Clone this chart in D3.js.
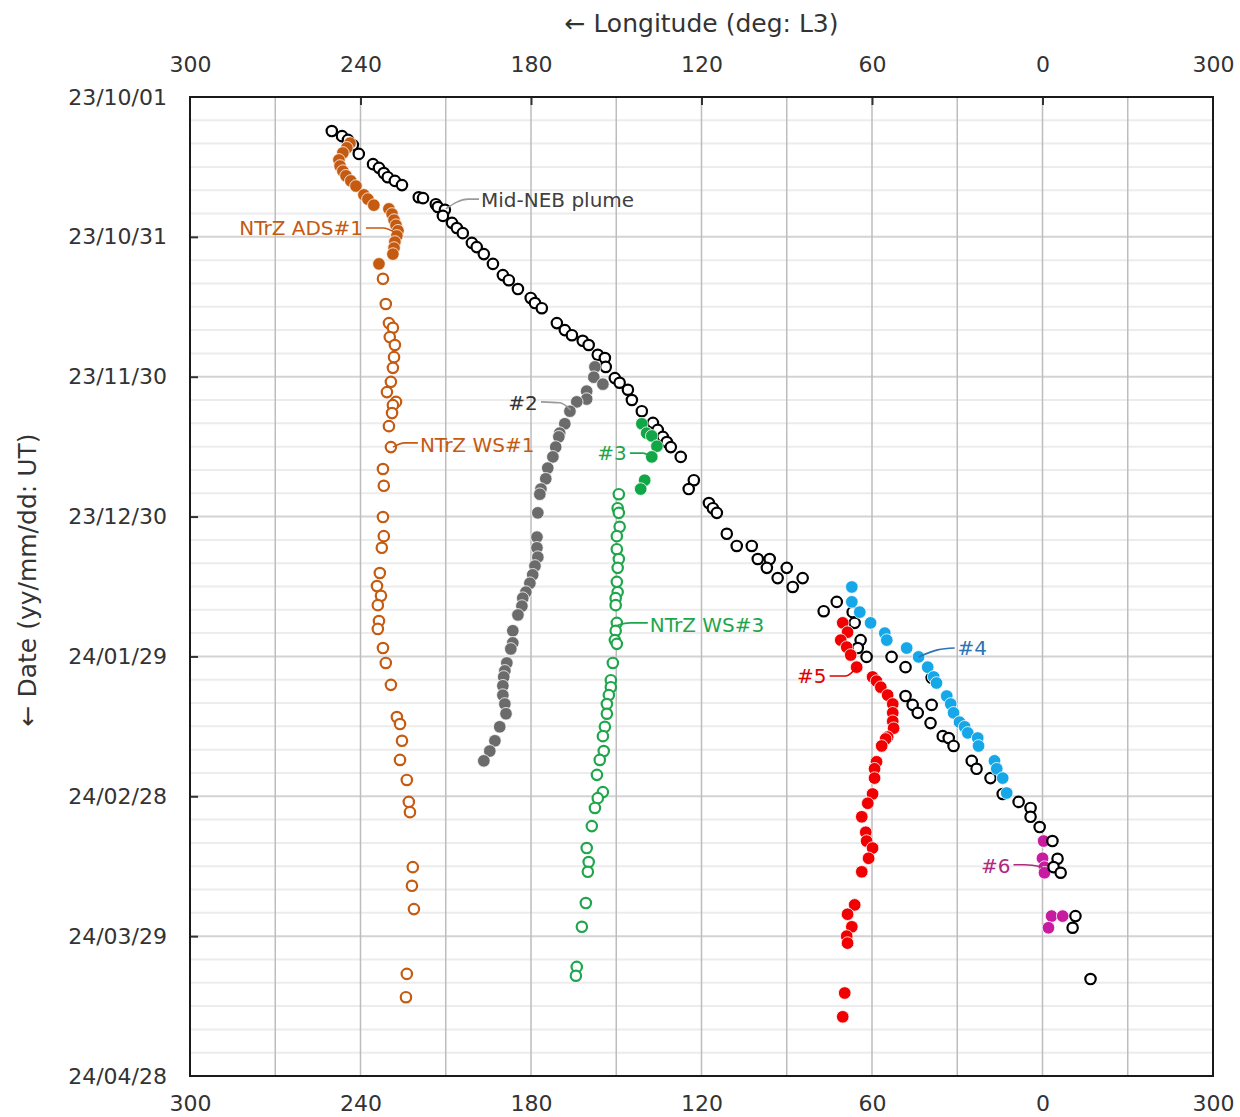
<!DOCTYPE html>
<html>
<head>
<meta charset="utf-8">
<script src="https://cdn.jsdelivr.net/npm/d3@7"></script>
<style>
body{margin:0;background:#fff;}
svg{display:block;font-family:"DejaVu Sans",Verdana,sans-serif;}
</style>
</head>
<body>
<svg id="chart" width="1240" height="1117"></svg>
<script>
// 데이터: [경도 (deg L3), 23/10/01 부터의 일수]
const midNeb = [[250.1,7.3],[246.5,8.4],[244.4,9.2],[242.7,10.3],[240.6,12.2],[235.6,14.4],[233.5,15.2],[231.8,16.3],[230.4,17.2],[227.9,18.0],[225.4,18.9],[219.5,21.5],[218.0,21.7],[213.5,23.0],[212.8,23.6],[210.3,24.2],[211.0,25.5],[207.8,27.0],[206.1,28.1],[204.0,29.2],[200.8,31.3],[199.1,32.2],[196.6,33.7],[193.4,35.8],[189.9,38.2],[187.8,39.3],[184.6,41.2],[180.1,43.1],[178.6,44.2],[176.2,45.3],[170.9,48.5],[168.1,50.0],[165.6,51.1],[161.8,52.3],[159.7,53.2],[156.5,55.3],[154.0,56.0],[153.7,57.9],[150.5,60.3],[148.8,61.3],[145.9,62.8],[144.5,65.0],[141.0,67.4],[137.1,69.9],[135.4,71.4],[133.6,72.9],[132.2,74.0],[130.8,75.1],[127.3,77.2],[122.7,82.2],[124.5,84.1],[117.4,87.1],[116.0,88.2],[114.6,89.2],[111.1,93.7],[107.6,96.3],[102.3,96.3],[100.2,99.1],[96.0,99.1],[97.0,101.0],[90.0,101.0],[93.2,103.2],[84.4,103.2],[87.9,105.1],[77.0,110.3],[72.4,108.3],[66.8,110.5],[66.1,112.8],[64.0,116.5],[65.0,118.2],[61.9,120.1],[53.1,120.1],[48.2,122.3],[39.0,124.6],[48.2,128.5],[45.7,130.4],[43.9,132.1],[39.0,130.4],[39.4,134.3],[35.1,137.1],[33.0,137.5],[31.3,139.2],[24.9,142.4],[23.2,144.1],[18.3,146.1],[14.0,149.5],[8.4,151.2],[4.2,152.5],[4.2,154.4],[1.0,156.6],[-3.5,159.6],[-5.3,163.4],[-3.9,165.2],[-6.4,166.4],[-11.6,175.7],[-10.6,178.2],[-16.9,189.2]]

const ntrzAds1 = [[243.7,9.9],[244.8,10.9],[246.2,12.0],[247.6,13.5],[247.2,14.8],[246.2,15.9],[245.1,16.9],[243.4,18.0],[241.6,19.1],[238.8,21.0],[237.4,21.9],[235.3,23.2],[230.0,24.0],[228.9,25.1],[228.2,26.4],[227.5,27.5],[226.8,28.7],[227.2,29.8],[227.9,31.1],[228.2,32.4],[228.6,33.7],[233.5,35.8]]

const ntrzWs1 = [[232.1,39.0],[231.1,44.4],[230.0,48.5],[228.6,49.5],[229.7,51.5],[227.9,53.2],[228.2,55.8],[228.6,58.1],[229.3,61.1],[230.7,63.3],[227.5,65.4],[228.6,66.1],[228.9,67.8],[230.0,70.6],[229.3,75.1],[232.1,79.8],[231.8,83.4],[232.1,90.1],[231.8,94.2],[232.5,96.7],[233.2,102.1],[234.2,104.9],[232.8,107.0],[233.9,109.0],[233.5,112.4],[233.9,114.1],[232.1,118.2],[231.1,121.4],[229.3,126.1],[227.2,133.0],[226.1,134.5],[225.4,138.1],[226.1,142.2],[223.7,146.5],[223.0,151.2],[222.6,153.4],[221.6,165.2],[221.9,169.2],[221.2,174.2],[223.7,188.1],[224.0,193.1]]

const spot2 = [[157.5,57.9],[157.9,60.1],[154.7,61.6],[160.4,63.1],[160.4,64.8],[163.9,65.4],[166.3,67.4],[168.1,70.1],[169.9,72.1],[170.2,72.9],[171.3,75.1],[172.3,77.2],[174.1,79.6],[174.8,81.9],[176.5,84.1],[176.9,85.2],[177.6,89.2],[177.9,94.4],[177.9,96.7],[177.6,98.7],[178.6,100.6],[179.4,102.5],[180.4,104.3],[181.8,106.2],[182.9,107.5],[183.2,109.2],[184.6,111.1],[186.4,114.5],[186.4,117.1],[187.1,118.4],[188.5,121.4],[189.2,123.1],[189.6,124.4],[189.9,126.3],[189.9,128.3],[189.2,130.2],[188.8,132.3],[191.0,135.1],[192.7,138.1],[194.5,140.3],[196.6,142.4]]

const spot3 = [[141.0,70.1],[139.3,72.1],[137.5,72.7],[135.7,74.9],[137.5,77.2],[140.0,82.2],[141.4,84.1]]

const ntrzWs3 = [[149.1,85.2],[149.5,88.2],[149.1,89.2],[148.8,92.2],[149.8,94.2],[149.8,97.0],[149.1,99.1],[149.5,101.0],[149.8,104.0],[149.5,106.2],[150.2,107.5],[150.2,109.0],[149.8,112.8],[150.2,114.5],[150.5,116.5],[149.8,117.3],[151.2,121.4],[151.9,125.1],[151.9,126.6],[152.6,128.3],[153.3,130.2],[153.3,132.3],[154.0,135.1],[154.7,137.1],[154.4,140.3],[155.8,142.2],[156.8,145.4],[154.7,149.1],[156.5,150.4],[157.5,152.5],[158.6,156.4],[160.4,161.1],[159.7,164.1],[160.0,166.2],[160.7,172.9],[162.1,178.0],[163.9,186.6],[164.2,188.5]]

const spot4 = [[67.1,105.1],[67.1,108.3],[64.3,110.5],[60.5,112.8],[55.5,115.0],[54.8,116.5],[47.8,118.2],[43.6,120.1],[40.4,122.3],[38.3,124.4],[37.3,125.7],[33.7,128.5],[32.3,130.2],[31.3,132.1],[29.2,134.1],[27.4,135.1],[26.3,136.4],[22.8,137.5],[22.5,139.2],[16.9,142.4],[16.1,144.1],[14.0,146.1],[12.6,149.3]]

const spot5 = [[70.3,112.8],[68.6,114.8],[71.0,116.5],[68.9,118.0],[67.5,119.7],[65.4,122.3],[59.8,124.4],[58.4,125.3],[56.9,126.6],[54.5,128.3],[52.7,130.2],[52.7,132.1],[52.7,133.9],[52.4,135.4],[54.5,137.3],[55.2,137.7],[56.6,139.2],[58.4,142.6],[59.1,144.1],[59.1,146.1],[59.8,149.5],[61.5,151.5],[63.6,154.4],[62.2,157.7],[61.9,159.6],[59.8,161.1],[61.2,163.3],[63.6,166.2],[66.1,173.3],[68.6,175.3],[67.1,178.0],[68.9,180.0],[68.6,181.5],[69.6,192.2],[70.3,197.3]]

const spot6 = [[-0.4,159.6],[0.0,163.3],[-0.7,165.2],[-0.7,166.4],[-3.2,175.7],[-7.1,175.7],[-2.1,178.2]]

// 축 눈금
const lonTicks = [300,240,180,120,60,0,-60]
const lonGrid = [270,240,210,180,150,120,90,60,30,0,-30]
const dayTicks = [0,30,60,90,120,150,180,210]

// 주석: 점 -> 꺾임 -> 끝, 텍스트
const notes = [
  {text:"Mid-NEB plume", color:"#404040", line:"#9a9a9a", pts:[[210.0,24.0],[202.2,21.9],[198.3,21.9]], tx:[197.6,22.1], anchor:"start"},
  {text:"NTrZ ADS#1", color:"#c55a11", line:"#c55a11", pts:[[227.5,29.2],[232.1,28.1],[238.1,28.1]], tx:[239.1,28.1], anchor:"end"},
  {text:"NTrZ WS#1", color:"#c55a11", line:"#c55a11", pts:[[228.6,75.1],[224.4,74.2],[219.8,74.2]], tx:[219.1,74.6], anchor:"start"},
  {text:"#2", color:"#333333", line:"#9a9a9a", pts:[[166.0,67.1],[169.9,65.6],[176.5,65.4]], tx:[177.6,65.6], anchor:"end"},
  {text:"#3", color:"#1fa64c", line:"#1fa64c", pts:[[137.5,77.2],[140.7,76.4],[145.2,76.4]], tx:[146.3,76.4], anchor:"end"},
  {text:"NTrZ WS#3", color:"#1fa64c", line:"#1fa64c", pts:[[149.5,113.3],[145.2,112.8],[138.9,112.8]], tx:[138.2,113.3], anchor:"start"},
  {text:"#4", color:"#2e74b5", line:"#2e74b5", pts:[[43.6,120.1],[36.9,118.6],[30.9,118.2]], tx:[29.9,118.2], anchor:"start"},
  {text:"#5", color:"#e00000", line:"#e00000", pts:[[65.4,122.3],[69.3,124.2],[74.9,124.2]], tx:[76.0,124.2], anchor:"end"},
  {text:"#6", color:"#b0287f", line:"#b0287f", pts:[[0.0,165.2],[6.3,164.7],[10.2,164.7]], tx:[11.3,165.0], anchor:"end"}
]

const L=190, R=1213, T=97, B=1076
const start = new Date(Date.UTC(2023,9,1))
const end = new Date(Date.UTC(2024,3,28))

function dayToDate(d){ return new Date(start.getTime()+d*864e5) }

const x = d3.scaleLinear().domain([300,-60]).range([L,R])
const y = d3.scaleUtc().domain([start,end]).range([T,B])
const dateFmt = d3.utcFormat("%y/%m/%d")

const svg = d3.select("#chart")

// 가로 격자 (5일 간격)
const hLines = d3.range(5,210,5)
svg.append("g").selectAll("line").data(hLines).enter().append("line")
  .attr("x1",L).attr("x2",R)
  .attr("y1",d=>y(dayToDate(d))).attr("y2",d=>y(dayToDate(d)))
  .attr("stroke",d=> d%30==0 ? "#d3d3d3" : "#ececec")
  .attr("stroke-width",2)

// 세로 격자
svg.append("g").selectAll("line").data(lonGrid).enter().append("line")
  .attr("x1",d=>x(d)).attr("x2",d=>x(d))
  .attr("y1",T).attr("y2",B)
  .attr("stroke","#bdbdbd").attr("stroke-width",1.5)

// 축
function styleAxis(g){
  g.select(".domain").remove()
  g.selectAll("text").attr("font-size",22).attr("fill","#333").attr("font-family","DejaVu Sans")
  g.selectAll("line").attr("stroke","#333").attr("stroke-width",2)
}
svg.append("g").attr("transform",`translate(0,${T})`)
  .call(d3.axisTop(x).tickValues(lonTicks).tickSize(0).tickPadding(25).tickFormat(d=>d==-60?"300":String(d)))
  .call(styleAxis)
svg.append("g").attr("transform",`translate(0,${B})`)
  .call(d3.axisBottom(x).tickValues(lonTicks).tickSize(0).tickPadding(19).tickFormat(d=>d==-60?"300":String(d)))
  .call(styleAxis)
svg.append("g").attr("transform",`translate(0,${T})`)
  .call(d3.axisBottom(x).tickValues([240,180,120,60,0]).tickSize(8).tickFormat(""))
  .call(styleAxis)
svg.append("g").attr("transform",`translate(${L},0)`)
  .call(d3.axisLeft(y).tickValues(dayTicks.map(dayToDate)).tickSize(0).tickPadding(23).tickFormat(dateFmt))
  .call(styleAxis)
svg.append("g").attr("transform",`translate(${L},0)`)
  .call(d3.axisRight(y).tickValues(dayTicks.slice(1,-1).map(dayToDate)).tickSize(8).tickFormat(""))
  .call(styleAxis)

// 테두리
svg.append("rect").attr("x",L).attr("y",T).attr("width",R-L).attr("height",B-T)
  .attr("fill","none").attr("stroke","#1a1a1a").attr("stroke-width",2)

// 점 그리기
function drawPts(arr, fill, stroke, sw, r){
  svg.append("g").selectAll("circle").data(arr).enter().append("circle")
    .attr("cx",d=>x(d[0])).attr("cy",d=>y(dayToDate(d[1])))
    .attr("r",r)
    .attr("fill",fill).attr("stroke",stroke).attr("stroke-width",sw)
}
drawPts(ntrzWs1,"#fff","#c55a11",2.2,5.2)
drawPts(ntrzWs3,"#fff","#1fa64c",2.2,5.2)
drawPts(spot6,"#c71ba0","#fff",0.8,6.3)
drawPts(midNeb,"#fff","#000",2.2,5.2)
drawPts(ntrzAds1,"#c55a11","#fff",0.8,6.3)
drawPts(spot2,"#6b6b6b","#fff",0.8,6.3)
drawPts(spot3,"#11a646","#fff",0.8,6.3)
drawPts(spot5,"#f00000","#fff",0.8,6.3)
drawPts(spot4,"#16a7e8","#fff",0.8,6.3)

// 주석
const lineGen = d3.line().x(d=>x(d[0])).y(d=>y(dayToDate(d[1]))).curve(d3.curveMonotoneX)
notes.forEach(n=>{
  svg.append("path").attr("d",lineGen(n.pts.slice().sort((a,b)=>x(a[0])-x(b[0]))))
    .attr("fill","none").attr("stroke",n.line).attr("stroke-width",1.6)
  svg.append("text").attr("x",x(n.tx[0])).attr("y",y(dayToDate(n.tx[1])))
    .attr("dy","0.36em").attr("text-anchor",n.anchor)
    .attr("font-size",20).attr("fill",n.color).text(n.text)
})

// 축 제목
svg.append("text").attr("x",(L+R)/2).attr("y",23).attr("dy","0.36em")
  .attr("text-anchor","middle").attr("font-size",25).attr("fill","#333")
  .text("← Longitude (deg: L3)")
svg.append("text").attr("transform","translate(27,580) rotate(-90)").attr("dy","0.36em")
  .attr("text-anchor","middle").attr("font-size",25).attr("fill","#333")
  .text("← Date (yy/mm/dd: UT)")
</script>
</body>
</html>
